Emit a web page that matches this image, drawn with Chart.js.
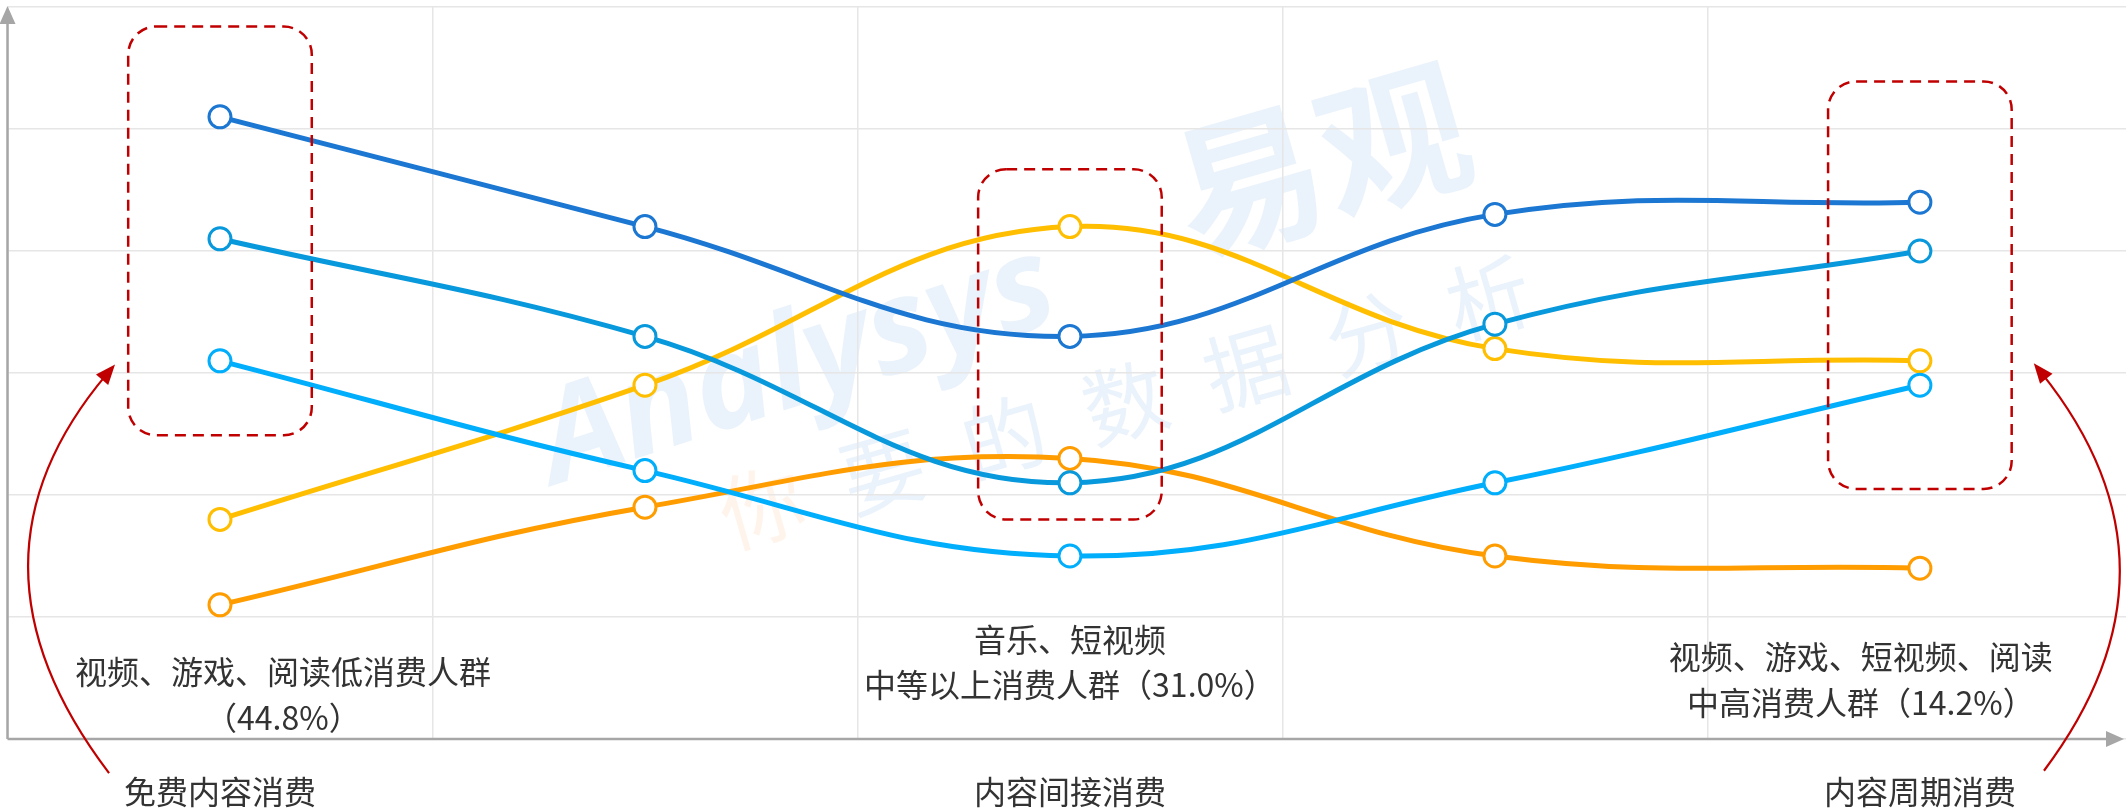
<!DOCTYPE html>
<html>
<head>
<meta charset="utf-8">
<script src="https://cdn.jsdelivr.net/npm/chart.js"></script>
<style>
  html, body { margin: 0; padding: 0; background: #fff; overflow: hidden; }
  #wrap { position: relative; width: 2126px; height: 808px; }
</style>
</head>
<body>
<div id="wrap"><canvas id="chart"></canvas></div>
<script>
// categories along the x axis (only the three stages carry a label)
const categories = ['免费内容消费', '', '内容间接消费', '', '内容周期消费'];

// five curves, values (grid step = 10)
const seriesA = [51, 42, 33, 43, 44];
const seriesB = [41, 33, 21, 34, 40];
const seriesC = [31, 22, 15, 21, 29];
const seriesD = [18, 29, 42, 32, 31];
const seriesE = [11, 19, 23, 15, 14];

const seriesColors = ['#1b77d2', '#0898dc', '#00aefc', '#ffbe00', '#ff9c00'];

// annotation texts inside the plot
const noteLines = [
  ['视频、游戏、阅读低消费人群', '（44.8%）'],
  ['音乐、短视频', '中等以上消费人群（31.0%）'],
  ['视频、游戏、短视频、阅读', '中高消费人群（14.2%）']
];

const FONT = '"Noto Sans CJK SC", "Microsoft YaHei", sans-serif';
const RED = '#c00000';
const AXIS = '#a6a6a6';

// where the notes / boxes / pointers sit, in axis units
const notePos = [
  { x: 0.148, y: [5.5, 1.7] },
  { x: 2, y: [8.1, 4.4] },
  { x: 3.861, y: [6.7, 3.0] }
];
const boxPos = [
  { x: 0, half: 0.216, top: 58.4, bottom: 24.9 },
  { x: 2, half: 0.216, top: 46.7, bottom: 18.0 },
  { x: 4, half: 0.216, top: 53.9, bottom: 20.5 }
];
const pointers = [
  { from: [-0.261, -2.8], ctrl: [-0.640, 14.55], to: [-0.247, 30.7] },
  { from: [4.292, -2.6], ctrl: [4.652, 14.1], to: [4.268, 30.8] }
];

function toPts(arr) {
  return arr.map((v, i) => ({ x: i, y: v }));
}

function roundRect(ctx, x, y, w, h, r) {
  ctx.beginPath();
  ctx.moveTo(x + r, y);
  ctx.lineTo(x + w - r, y);
  ctx.arcTo(x + w, y, x + w, y + r, r);
  ctx.lineTo(x + w, y + h - r);
  ctx.arcTo(x + w, y + h, x + w - r, y + h, r);
  ctx.lineTo(x + r, y + h);
  ctx.arcTo(x, y + h, x, y + h - r, r);
  ctx.lineTo(x, y + r);
  ctx.arcTo(x, y, x + r, y, r);
  ctx.closePath();
}

function head(ctx, tx, ty, ang, len, half, color) {
  ctx.save();
  ctx.translate(tx, ty);
  ctx.rotate(ang);
  ctx.beginPath();
  ctx.moveTo(0, 0);
  ctx.lineTo(-len, -half);
  ctx.lineTo(-len, half);
  ctx.closePath();
  ctx.fillStyle = color;
  ctx.fill();
  ctx.restore();
}

const decor = {
  id: 'decor',
  beforeDraw(chart) {
    const { ctx } = chart;
    const xs = chart.scales.x, ys = chart.scales.y;
    ctx.save();
    ctx.fillStyle = '#fff';
    ctx.fillRect(0, 0, chart.width, chart.height);

    // faint watermark
    const ang = -16 * Math.PI / 180;
    ctx.textAlign = 'center';
    ctx.textBaseline = 'middle';

    ctx.save();
    ctx.translate(xs.getPixelForValue(1.36), ys.getPixelForValue(30.5));
    ctx.rotate(-18 * Math.PI / 180);
    ctx.font = 'italic bold 130px "Open Sans", sans-serif';
    ctx.fillStyle = 'rgba(20,120,215,0.09)';
    ctx.fillText('Analysys', 0, 0);
    ctx.restore();

    ctx.save();
    ctx.translate(xs.getPixelForValue(2.59), ys.getPixelForValue(47.5));
    ctx.rotate(ang);
    ctx.font = 'bold 150px ' + FONT;
    ctx.fillStyle = 'rgba(20,120,215,0.09)';
    ctx.fillText('易观', 0, 0);
    ctx.restore();

    ctx.save();
    ctx.translate(xs.getPixelForValue(2.13), ys.getPixelForValue(27.6));
    ctx.rotate(ang);
    ctx.font = '84px ' + FONT;
    const chars = ['你', '要', '的', '数', '据', '分', '析'];
    chars.forEach((c, i) => {
      ctx.fillStyle = i === 0 ? 'rgba(255,130,30,0.09)' : 'rgba(20,120,215,0.09)';
      ctx.fillText(c, (i - 3) * 126, 0);
    });
    ctx.restore();

    ctx.restore();
  },
  beforeDatasetsDraw(chart) {
    const { ctx, chartArea: a } = chart;
    const right = chart.width - 2;
    ctx.save();
    ctx.strokeStyle = AXIS;
    ctx.lineWidth = 2.5;
    ctx.beginPath();
    ctx.moveTo(a.left, a.bottom);
    ctx.lineTo(a.left, a.top + 14);
    ctx.moveTo(a.left, a.bottom);
    ctx.lineTo(right - 14, a.bottom);
    ctx.stroke();
    head(ctx, a.left, a.top - 1, -Math.PI / 2, 18, 8, AXIS);
    head(ctx, right, a.bottom, 0, 18, 8, AXIS);
    ctx.restore();
  },
  afterDatasetsDraw(chart) {
    const { ctx } = chart;
    const xs = chart.scales.x, ys = chart.scales.y;
    ctx.save();

    // dashed rounded boxes
    ctx.strokeStyle = RED;
    ctx.lineWidth = 2.5;
    ctx.setLineDash([11, 7]);
    boxPos.forEach(b => {
      const x1 = xs.getPixelForValue(b.x - b.half);
      const x2 = xs.getPixelForValue(b.x + b.half);
      const y1 = ys.getPixelForValue(b.top);
      const y2 = ys.getPixelForValue(b.bottom);
      roundRect(ctx, x1, y1, x2 - x1, y2 - y1, 28);
      ctx.stroke();
    });
    ctx.setLineDash([]);

    // curved pointers
    ctx.lineWidth = 2.2;
    pointers.forEach(p => {
      const f = [xs.getPixelForValue(p.from[0]), ys.getPixelForValue(p.from[1])];
      const c = [xs.getPixelForValue(p.ctrl[0]), ys.getPixelForValue(p.ctrl[1])];
      const t = [xs.getPixelForValue(p.to[0]), ys.getPixelForValue(p.to[1])];
      const ang = Math.atan2(t[1] - c[1], t[0] - c[0]);
      const ex = t[0] - Math.cos(ang) * 12, ey = t[1] - Math.sin(ang) * 12;
      ctx.beginPath();
      ctx.moveTo(f[0], f[1]);
      ctx.quadraticCurveTo(c[0], c[1], ex, ey);
      ctx.stroke();
      head(ctx, t[0], t[1], ang, 20, 8, RED);
    });

    // notes
    ctx.fillStyle = '#333';
    ctx.font = '32px ' + FONT;
    ctx.textAlign = 'center';
    ctx.textBaseline = 'middle';
    noteLines.forEach((lines, i) => {
      const p = notePos[i];
      lines.forEach((s, j) => {
        ctx.fillText(s, xs.getPixelForValue(p.x), ys.getPixelForValue(p.y[j]));
      });
    });
    ctx.restore();
  }
};

const tickVals = [-0.5, 0, 0.5, 1, 1.5, 2, 2.5, 3, 3.5, 4];
const allSeries = [seriesA, seriesB, seriesC, seriesD, seriesE];

new Chart(document.getElementById('chart'), {
  type: 'line',
  data: {
    datasets: allSeries.map((s, i) => ({
      label: 'S' + (i + 1),
      data: toPts(s),
      borderColor: seriesColors[i],
      backgroundColor: seriesColors[i],
      borderWidth: 5,
      tension: 0.4,
      fill: false,
      pointRadius: 11,
      pointBorderWidth: 3,
      pointBackgroundColor: '#fff',
      pointBorderColor: seriesColors[i]
    }))
  },
  options: {
    responsive: true,
    maintainAspectRatio: false,
    animation: false,
    layout: { autoPadding: false, padding: { left: 7.5, top: 7, right: 0, bottom: 0 } },
    plugins: {
      legend: { display: false },
      tooltip: { enabled: false }
    },
    scales: {
      x: {
        type: 'linear',
        min: -0.5,
        max: 4.485,
        afterBuildTicks: s => { s.ticks = tickVals.map(v => ({ value: v })); },
        afterFit: s => {
          s.height = 69;
          s.paddingLeft = 0;
          s.paddingRight = 0;
        },
        grid: {
          color: c => (c.tick && Number.isInteger(c.tick.value)) ? 'rgba(0,0,0,0)' : '#e6e6e6',
          lineWidth: 1.5,
          drawTicks: false
        },
        border: { display: false },
        ticks: {
          autoSkip: false,
          maxRotation: 0,
          padding: 35,
          color: '#333',
          font: { family: FONT, size: 32, lineHeight: 1.1 },
          callback: v => Number.isInteger(v) ? (categories[v] || '') : ''
        }
      },
      y: {
        min: 0,
        max: 60,
        afterFit: s => {
          s.width = 0;
          s.paddingTop = 0;
          s.paddingBottom = 0;
        },
        ticks: { stepSize: 10, display: false },
        grid: { color: '#e6e6e6', lineWidth: 1.5, drawTicks: false },
        border: { display: false }
      }
    }
  },
  plugins: [decor]
});
</script>
</body>
</html>
